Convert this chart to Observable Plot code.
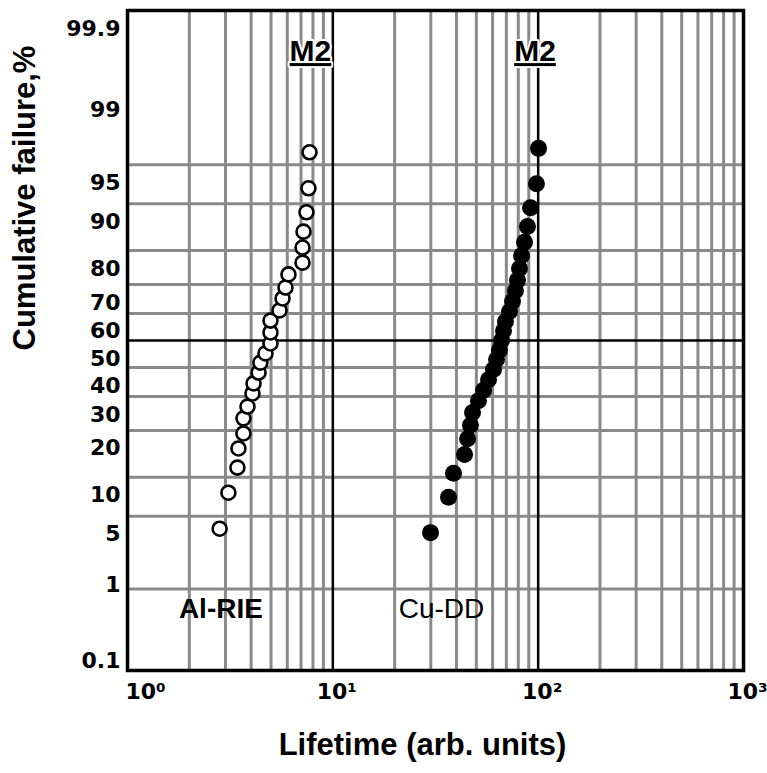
<!DOCTYPE html>
<html>
<head>
<meta charset="utf-8">
<script src="https://cdn.jsdelivr.net/npm/d3@7"></script>
<script src="https://cdn.jsdelivr.net/npm/@observablehq/plot@0.6"></script>
<style>
  html, body { margin: 0; padding: 0; background: #fff; }
  #chart { width: 767px; height: 773px; }
</style>
</head>
<body>
<div id="chart"></div>
<script>
// ---- Data ----
// Al-RIE: lifetime (arb. units) and cumulative failure (%)
const alLifetime = [2.81, 3.10, 3.43, 3.47, 3.67, 3.67, 3.84, 4.06, 4.11, 4.35, 4.44, 4.70, 4.97, 4.97, 4.97, 5.50, 5.69, 5.88, 6.08, 7.12, 7.12, 7.20, 7.44, 7.61, 7.70];
const alPercent  = [3.9, 7.7, 11.7, 15.6, 19.2, 23.3, 26.8, 31.0, 34.4, 38.2, 41.8, 45.2, 48.9, 53.0, 57.4, 61.1, 65.3, 69.0, 73.2, 76.7, 80.8, 84.6, 88.5, 92.3, 96.1];

// Cu-DD
const cuLifetime = [29.9, 36.6, 38.7, 43.8, 45.3, 46.8, 47.9, 51.2, 54.2, 57.3, 60.6, 62.7, 64.8, 66.3, 67.8, 69.3, 72.5, 75.0, 77.5, 79.3, 81.1, 83.0, 85.8, 88.7, 91.8, 98.1, 100.4];
const cuPercent  = [3.6, 7.1, 10.7, 14.3, 17.9, 21.4, 25.0, 28.6, 32.1, 35.7, 39.3, 42.9, 46.4, 50.0, 53.6, 57.1, 60.7, 64.3, 67.9, 71.4, 75.0, 78.6, 82.1, 85.7, 89.3, 92.9, 96.4];

// Axis tick labels
const yTicksMain  = [5, 10, 20, 30, 40, 50, 60, 70, 80, 90, 95, 99, 99.9];
const yTicksOne   = [1];
const yTicksLow   = [0.1];
const xTickValues = [1, 10, 100, 1000];
const xTickLabels = ["10\u2070", "10\u00B9", "10\u00B2", "10\u00B3"];

// Grid lines (probability paper)
const xGridMinor = [2, 3, 4, 5, 6, 7, 8, 9, 20, 30, 40, 50, 60, 70, 80, 90, 200, 300, 400, 500, 600, 700, 800, 900];
const xGridMajor = [10, 100];
const yGridMinor = [1, 5, 10, 20, 30, 40, 60, 70, 80, 90, 95];
const yGridMajor = [50];

// Annotations
const m2Lifetime = [7.78, 96.5];
const m2Percent  = [99.66, 99.66];
const seriesLabels = ["Al-RIE", "Cu-DD"];
const seriesLabelLifetime = [2.85, 33.8];
const seriesLabelPercent  = [0.6, 0.6];

const yTitle = "Cumulative failure,%";
const xTitle = "Lifetime (arb. units)";

// ---- Normal probability transform (inverse normal CDF, Acklam) ----
function probit(p) {
  const a = [-3.969683028665376e+01, 2.209460984245205e+02, -2.759285104469687e+02, 1.383577518672690e+02, -3.066479806614716e+01, 2.506628277459239e+00];
  const b = [-5.447609879822406e+01, 1.615858368580409e+02, -1.556989798598866e+02, 6.680131188771972e+01, -1.328068155288572e+01];
  const c = [-7.784894002430293e-03, -3.223964580411365e-01, -2.400758277161838e+00, -2.549671348871337e+00, 4.374664141464968e+00, 2.938163982698783e+00];
  const d = [7.784695709041462e-03, 3.224671290700398e-01, 2.445134137142996e+00, 3.754408661907416e+00];
  const pl = 0.02425, ph = 1 - pl;
  let q, r;
  if (p < pl) {
    q = Math.sqrt(-2 * Math.log(p));
    return (((((c[0]*q+c[1])*q+c[2])*q+c[3])*q+c[4])*q+c[5]) / ((((d[0]*q+d[1])*q+d[2])*q+d[3])*q+1);
  }
  if (p <= ph) {
    q = p - 0.5; r = q * q;
    return (((((a[0]*r+a[1])*r+a[2])*r+a[3])*r+a[4])*r+a[5])*q / (((((b[0]*r+b[1])*r+b[2])*r+b[3])*r+b[4])*r+1);
  }
  q = Math.sqrt(-2 * Math.log(1 - p));
  return -(((((c[0]*q+c[1])*q+c[2])*q+c[3])*q+c[4])*q+c[5]) / ((((d[0]*q+d[1])*q+d[2])*q+d[3])*q+1);
}
const zp = pct => probit(pct / 100);

// Tables built from the arrays
const alData = alLifetime.map((v, i) => ({lifetime: v, pct: alPercent[i]}));
const cuData = cuLifetime.map((v, i) => ({lifetime: v, pct: cuPercent[i]}));
const m2Data = m2Lifetime.map((v, i) => ({lifetime: v, pct: m2Percent[i], text: "M2"}));
const labData = seriesLabels.map((t, i) => ({text: t, lifetime: seriesLabelLifetime[i], pct: seriesLabelPercent[i]}));

const yLabelMap = new Map();
[...yTicksMain, ...yTicksOne, ...yTicksLow].forEach(p => yLabelMap.set(zp(p), String(p)));
const xLabelMap = new Map(xTickValues.map((v, i) => [v, xTickLabels[i]]));

const gridGray = "#8a8a8a";
const tickFont = {fontSize: 22, fontWeight: "bold", fontFamily: "DejaVu Sans"};

const yAxis = (ticks, dy) => Plot.axisY(ticks.map(zp), {
  tickSize: 0, tickPadding: 7, label: null,
  tickFormat: z => yLabelMap.get(z), dy, ...tickFont
});
const xAxis = (ticks, dx) => Plot.axisX(ticks, {
  tickSize: 0, tickPadding: 3, label: null,
  tickFormat: v => xLabelMap.get(v), dx, dy: 10, ...tickFont
});

const chart = Plot.plot({
  width: 767,
  height: 773,
  marginLeft: 127,
  marginRight: 24,
  marginTop: 10,
  marginBottom: 103,
  x: {type: "log", domain: [1, 1000]},
  y: {type: "linear", domain: [zp(0.1), zp(99.9)]},
  style: {background: "white", fontFamily: "Liberation Sans", overflow: "visible"},
  marks: [
    Plot.ruleX(xGridMinor, {stroke: gridGray, strokeWidth: 3}),
    Plot.ruleY(yGridMinor, {y: d => zp(d), stroke: gridGray, strokeWidth: 3}),
    Plot.ruleX(xGridMajor, {stroke: "black", strokeWidth: 2.5}),
    Plot.ruleY(yGridMajor, {y: d => zp(d), stroke: "black", strokeWidth: 2.5}),
    Plot.frame({stroke: "black", strokeWidth: 3.5}),
    yAxis(yTicksMain, 18),
    yAxis(yTicksOne, -4),
    yAxis(yTicksLow, -10),
    xAxis(xTickValues.slice(1), 4),
    xAxis(xTickValues.slice(0, 1), 18),
    Plot.dot(alData, {x: "lifetime", y: d => zp(d.pct), r: 7, fill: "white", stroke: "black", strokeWidth: 2.6}),
    Plot.dot(cuData, {x: "lifetime", y: d => zp(d.pct), r: 8.5, fill: "black"}),
    Plot.text(m2Data, {x: "lifetime", y: d => zp(d.pct), text: "text", fontSize: 30, fontWeight: "bold",
      fill: "black", stroke: "white", strokeWidth: 4}),
    Plot.text(labData.slice(0, 1), {x: "lifetime", y: d => zp(d.pct), text: "text", fontSize: 28, fontWeight: "bold", fill: "black"}),
    Plot.text(labData.slice(1), {x: "lifetime", y: d => zp(d.pct), text: "text", fontSize: 28, fontWeight: "normal", fill: "black"}),
    Plot.text([yTitle], {text: d => d, frameAnchor: "left", rotate: -90, dx: -102, dy: 10, fontSize: 31, fontWeight: "bold", fill: "black"}),
    Plot.text([xTitle], {text: d => d, frameAnchor: "bottom", dx: -13, dy: 84, fontSize: 31, fontWeight: "bold", fill: "black"})
  ]
});

d3.select(chart).selectAll("text")
  .filter(function() { return this.textContent === "M2"; })
  .style("text-decoration", "underline");

document.getElementById("chart").appendChild(chart);
</script>
</body>
</html>
